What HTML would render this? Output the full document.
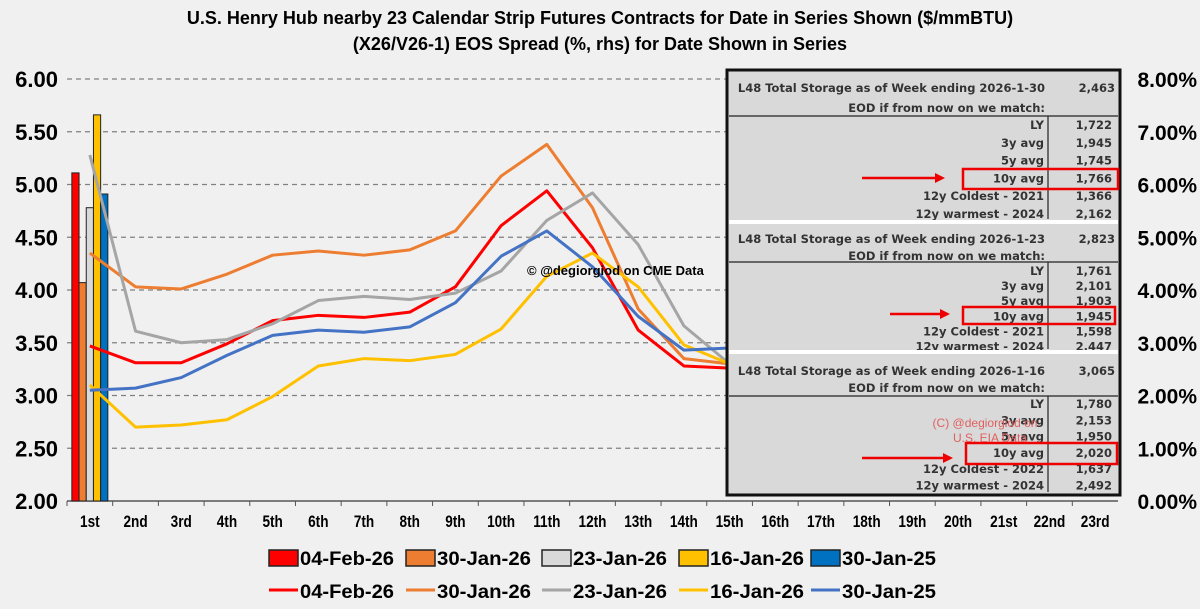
<!DOCTYPE html>
<html><head><meta charset="utf-8"><style>
html,body{margin:0;padding:0;background:#f0f0f0;}
svg{display:block;font-family:"Liberation Sans",Arial,sans-serif;}
.n{font-family:"Liberation Sans",sans-serif;font-weight:bold;}
.t{font-family:"DejaVu Sans","Liberation Sans",sans-serif;font-weight:bold;font-size:11.5px;fill:#333;}
</style></head><body>
<svg id="c" width="1200" height="609" viewBox="0 0 1200 609">
<rect width="1200" height="609" fill="#f0f0f0"/>
<text x="600" y="24" text-anchor="middle" font-size="18" font-weight="bold">U.S. Henry Hub nearby 23 Calendar Strip Futures Contracts for Date in Series Shown ($/mmBTU)</text>
<text x="600" y="50" text-anchor="middle" font-size="18" font-weight="bold">(X26/V26-1) EOS Spread (%, rhs) for Date Shown in Series</text>
<g id="grid"></g><g id="axes"></g><g id="xl" transform="scale(0.8,1)"></g><g id="bars"></g><g id="lines"></g>
<text x="527" y="275" font-size="13" font-weight="bold">© @degiorgiod on CME Data</text>
<g id="table"></g>
<g id="legend"></g>
</svg>
<script>
const categories=["1st","2nd","3rd","4th","5th","6th","7th","8th","9th","10th","11th","12th","13th","14th","15th","16th","17th","18th","19th","20th","21st","22nd","23rd"];
const seriesNames=["04-Feb-26","30-Jan-26","23-Jan-26","16-Jan-26","30-Jan-25"];
const barValues=[5.11,4.07,4.78,5.66,4.91];
const line0=[3.47,3.31,3.31,3.49,3.71,3.76,3.74,3.79,4.03,4.61,4.94,4.40,3.62,3.28,3.26];
const line1=[4.35,4.03,4.01,4.15,4.33,4.37,4.33,4.38,4.56,5.08,5.38,4.78,3.82,3.35,3.30];
const line2=[5.28,3.61,3.50,3.53,3.68,3.90,3.94,3.91,3.97,4.18,4.66,4.92,4.43,3.66,3.30];
const line3=[3.10,2.70,2.72,2.77,2.99,3.28,3.35,3.33,3.39,3.63,4.13,4.35,4.03,3.48,3.30];
const line4=[3.05,3.07,3.17,3.38,3.57,3.62,3.60,3.65,3.88,4.32,4.56,4.22,3.75,3.43,3.45];
const leftTicks=["2.00","2.50","3.00","3.50","4.00","4.50","5.00","5.50","6.00"];
const rightTicks=["0.00%","1.00%","2.00%","3.00%","4.00%","5.00%","6.00%","7.00%","8.00%"];
const barColors=["#ff0000","#ed7d31","#d9d9d9","#ffc000","#0070c0"];
const lineColors=["#ff0000","#ed7d31","#a5a5a5","#ffc000","#4472c4"];
const NS="http://www.w3.org/2000/svg";
const X0=67,X1=1118,Y0=501,Y1=79,step=(X1-X0)/23;
const y=v=>Y0-(v-2)/4*(Y0-Y1);
const x=i=>X0+step*(i+0.5);
function mk(t,a,p){const e=document.createElementNS(NS,t);for(const k in a)e.setAttribute(k,a[k]);(p||document.getElementById('c')).appendChild(e);return e;}
const grid=document.getElementById('grid'),axes=document.getElementById('axes'),xl=document.getElementById('xl');
leftTicks.forEach((t,i)=>{const v=parseFloat(t);const yy=y(v);
 if(i>0){const g=mk('line',{x1:X0,x2:X1,y1:yy,y2:yy,stroke:'#808080','stroke-width':1.3,'stroke-dasharray':'5,4'},grid);
 
 }
 const l=mk('text',{x:58,y:yy+8,'text-anchor':'end','font-size':22,'font-weight':'bold'},axes);l.textContent=t;
 
 
 const r=mk('text',{x:1197,y:yy+8,'text-anchor':'end','font-size':21,'font-weight':'bold'},axes);r.textContent=rightTicks[i];
 
 
});
const ax=mk('line',{x1:X0,x2:X1,y1:Y0,y2:Y0,stroke:'#555','stroke-width':1.5},axes);


categories.forEach((c,i)=>{
 const tk=mk('line',{x1:X0+step*i,x2:X0+step*i,y1:Y0,y2:Y0+5,stroke:'#555'},axes);
 
 
 const t=mk('text',{x:x(i)/0.8,y:Y0+26,'text-anchor':'middle','font-size':17,class:'n'},xl);t.textContent=c;
 
 
});
const bars=document.getElementById('bars');const bw=7.2;
barValues.forEach((v,i)=>{const bx=x(0)-18+bw*i;
 const b=mk('rect',{x:bx,y:y(v),width:bw,height:Y0-y(v),fill:barColors[i],stroke:'#222','stroke-width':1},bars);
 
 
});
const lines=document.getElementById('lines');
[line0,line1,line2,line3,line4].forEach((arr,k)=>{
 const p=mk('polyline',{points:arr.map((v,i)=>x(i)+','+y(v)).join(' '),fill:'none',stroke:lineColors[k],'stroke-width':3,'stroke-linejoin':'round'},lines);
 
 
});
const tb=document.getElementById('table');
mk('rect',{x:727,y:70,width:393,height:425,fill:'#d9d9d9',stroke:'#111','stroke-width':3},tb);
const secs=[
 {top:70,bot:222,date:'2026-1-30',tot:'2,463',rows:[['LY','1,722'],['3y avg','1,945'],['5y avg','1,745'],['10y avg','1,766'],['12y Coldest - 2021','1,366'],['12y warmest - 2024','2,162']],h:88,e:108,l:116,r0:125,rs:17.8,box:[963,169,155,20],arr:[862,945,178]},
 {top:222,bot:352,date:'2026-1-23',tot:'2,823',rows:[['LY','1,761'],['3y avg','2,101'],['5y avg','1,903'],['10y avg','1,945'],['12y Coldest - 2021','1,598'],['12y warmest - 2024','2,447']],h:239,e:256,l:262,r0:271,rs:15.1,box:[963,307,152,17],arr:[890,950,314]},
 {top:352,bot:495,date:'2026-1-16',tot:'3,065',rows:[['LY','1,780'],['3y avg','2,153'],['5y avg','1,950'],['10y avg','2,020'],['12y Coldest - 2022','1,637'],['12y warmest - 2024','2,492']],h:371,e:388,l:396,r0:404,rs:16.3,box:[966,443,151,21],arr:[862,953,458]}];
secs.forEach((s,si)=>{
 if(si>0)mk('rect',{x:729,y:s.top-2,width:389,height:4,fill:'#fff'},tb);
 mk('line',{x1:729,x2:1118,y1:s.l,y2:s.l,stroke:'#222','stroke-width':1.2},tb);
 mk('line',{x1:1048,x2:1048,y1:s.l,y2:s.bot-3,stroke:'#222','stroke-width':1.2},tb);
 const t1=mk('text',{x:1045,y:s.h+4,'text-anchor':'end',class:'t'},tb);t1.textContent='L48 Total Storage as of Week ending '+s.date;
 const t2=mk('text',{x:1115,y:s.h+4,'text-anchor':'end',class:'t'},tb);t2.textContent=s.tot;
 const t3=mk('text',{x:1045,y:s.e+4,'text-anchor':'end',class:'t'},tb);t3.textContent='EOD if from now on we match:';
 s.rows.forEach((r,i)=>{const yy=s.r0+i*s.rs+4;
  const a=mk('text',{x:1044,y:yy,'text-anchor':'end',class:'t'},tb);a.textContent=r[0];
  const b=mk('text',{x:1112,y:yy,'text-anchor':'end',class:'t'},tb);b.textContent=r[1];});
 mk('rect',{x:s.box[0],y:s.box[1],width:s.box[2],height:s.box[3],fill:'none',stroke:'#e00','stroke-width':2.5},tb);
 mk('line',{x1:s.arr[0],x2:s.arr[1]-8,y1:s.arr[2],y2:s.arr[2],stroke:'#e00','stroke-width':2.5},tb);
 mk('polygon',{points:(s.arr[1]-10)+','+(s.arr[2]-5)+' '+s.arr[1]+','+s.arr[2]+' '+(s.arr[1]-10)+','+(s.arr[2]+5),fill:'#e00'},tb);
});
const wm=mk('text',{x:985,y:427,'text-anchor':'middle','font-size':12,fill:'#e06060'},tb);wm.textContent='(C) @degiorgiod on';
const wm2=mk('text',{x:990,y:442,'text-anchor':'middle','font-size':12,fill:'#e06060'},tb);wm2.textContent='U.S. EIA Data';
const lg=document.getElementById('legend');
const legX=[269,406,542,679,811];
seriesNames.forEach((n,i)=>{const lx=legX[i];
 const sq=mk('rect',{x:lx,y:550,width:29,height:16,fill:barColors[i],stroke:'#222','stroke-width':1.5},lg);
 
 
 const t=mk('text',{x:lx+31,y:565,'font-size':19,class:'n',textLength:94,lengthAdjust:'spacingAndGlyphs'},lg);t.textContent=n;
 
 
 const ln=mk('line',{x1:lx,x2:lx+29,y1:590,y2:590,stroke:lineColors[i],'stroke-width':3},lg);
 
 
 const t2=mk('text',{x:lx+31,y:598,'font-size':19,class:'n',textLength:94,lengthAdjust:'spacingAndGlyphs'},lg);t2.textContent=n;
 
 
});
</script>
</body></html>
